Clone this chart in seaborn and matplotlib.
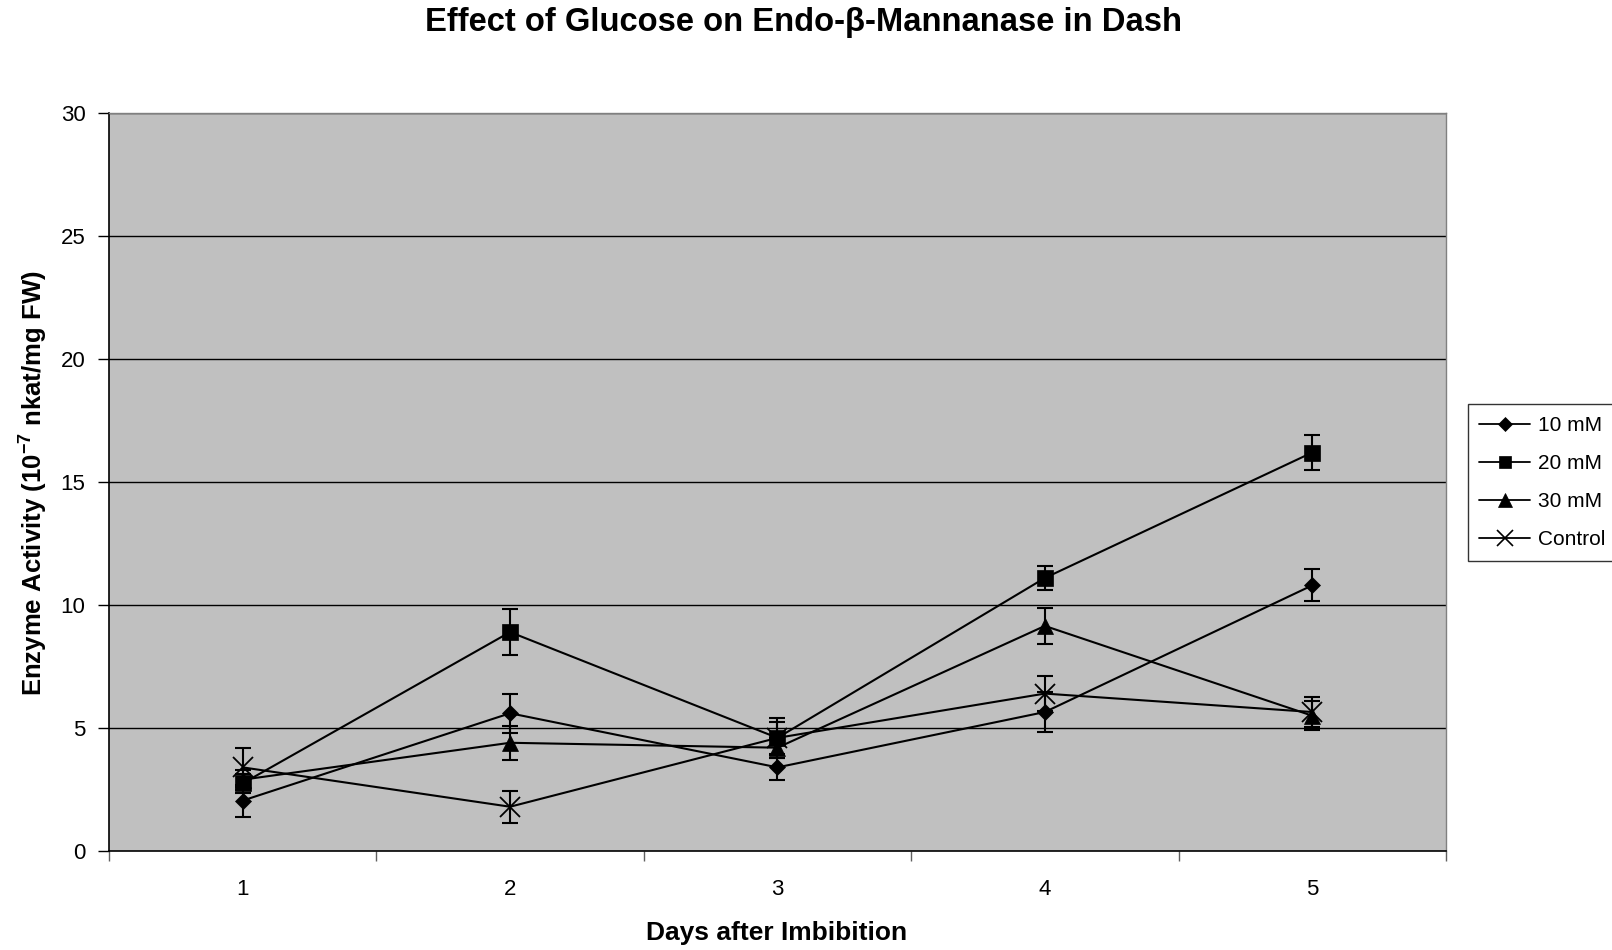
import matplotlib
matplotlib.use("Agg")
import matplotlib.pyplot as plt
import seaborn as sns
import pandas as pd
import numpy as np
from matplotlib.ticker import FixedLocator
from matplotlib.lines import Line2D

# ---- data ----
days = [1, 2, 3, 4, 5]
series_names = ["10 mM", "20 mM", "30 mM", "Control"]
vals_10 = [2.05, 5.6, 3.4, 5.65, 10.8]
vals_20 = [2.75, 8.9, 4.6, 11.1, 16.2]
vals_30 = [2.9, 4.4, 4.2, 9.15, 5.5]
vals_ctrl = [3.4, 1.8, 4.6, 6.4, 5.65]
err_10 = [0.65, 0.8, 0.5, 0.8, 0.65]
err_20 = [0.4, 0.93, 0.8, 0.5, 0.72]
err_30 = [0.4, 0.7, 0.4, 0.72, 0.6]
err_ctrl = [0.8, 0.65, 0.65, 0.7, 0.6]
y_ticks = [0, 5, 10, 15, 20, 25, 30]

title = "Effect of Glucose on Endo-\u03b2-Mannanase in Dash"
xlabel = "Days after Imbibition"
ylabel = r"Enzyme Activity (10$^{\mathbf{-7}}$ nkat/mg FW)"

sns.set_theme(style="white")
plt.rcParams["font.family"] = ["Liberation Sans", "DejaVu Sans"]
plt.rcParams["mathtext.fontset"] = "custom"
plt.rcParams["mathtext.rm"] = "Liberation Sans"
plt.rcParams["mathtext.bf"] = "Liberation Sans:bold"
for k in ["text.color", "axes.labelcolor", "xtick.color", "ytick.color", "xtick.labelcolor", "ytick.labelcolor"]:
    plt.rcParams[k] = "black"

df = pd.DataFrame({
    "day": days * 4,
    "value": vals_10 + vals_20 + vals_30 + vals_ctrl,
    "series": sum([[s] * 5 for s in series_names], []),
})
errs = {"10 mM": err_10, "20 mM": err_20, "30 mM": err_30, "Control": err_ctrl}
vals = {"10 mM": vals_10, "20 mM": vals_20, "30 mM": vals_30, "Control": vals_ctrl}
markers = {"10 mM": "D", "20 mM": "s", "30 mM": "^", "Control": "x"}
msizes = {"10 mM": 8.5, "20 mM": 11, "30 mM": 12, "Control": 14}

fig = plt.figure(figsize=(16.12, 9.5), dpi=100)
ax = fig.add_axes([0.0676, 0.1042, 0.8294, 0.7768])
ax.set_facecolor("#C0C0C0")

for name in series_names:
    sub = df[df["series"] == name]
    sns.lineplot(data=sub, x="day", y="value", ax=ax, color="black",
                 linewidth=1.5, marker=markers[name], markersize=msizes[name],
                 markeredgecolor="black", markerfacecolor="black",
                 markeredgewidth=1.3 if name == "Control" else 0.5,
                 legend=False, zorder=3)
    ax.errorbar(days, vals[name], yerr=errs[name], fmt="none", ecolor="black",
                elinewidth=1.5, capsize=6, capthick=1.5, zorder=2)

ax.set_xlim(0.5, 5.5)
ax.set_ylim(0, 30)
ax.set_yticks(y_ticks)
ax.set_xticks(days)
ax.xaxis.set_minor_locator(FixedLocator([0.5, 1.5, 2.5, 3.5, 4.5, 5.5]))
ax.tick_params(axis="x", which="major", length=0, pad=20, labelsize=16, colors="black")
ax.tick_params(axis="x", which="minor", length=7, width=1, color="#606060", direction="out", bottom=True)
ax.tick_params(axis="y", which="major", length=8, width=1, color="black", direction="out", pad=9, labelsize=16, left=True)
ax.set_xlabel("")
ax.set_ylabel("")
ax.grid(False)
for yv in y_ticks[1:]:
    ax.axhline(yv, color="black", linewidth=1, zorder=1)

for side in ["left", "bottom"]:
    ax.spines[side].set_color("black")
    ax.spines[side].set_linewidth(1.2)
for side in ["top", "right"]:
    ax.spines[side].set_color("#808080")
    ax.spines[side].set_linewidth(1)

fig.text(0.4985, 0.976, title, ha="center", va="center", fontsize=23.6, fontweight="bold", color="black")
fig.text(0.482, 0.018, xlabel, ha="center", va="center", fontsize=19, fontweight="bold", color="black")
fig.text(0.0205, 0.4916, ylabel, ha="center", va="center", rotation=90, fontsize=18.5, fontweight="bold", color="black")

handles = [Line2D([0], [0], color="black", linewidth=1.3, marker=markers[n],
                  markersize=msizes[n] * 0.8, markerfacecolor="black",
                  markeredgecolor="black", markeredgewidth=1.2 if n == "Control" else 0.5)
           for n in series_names]
leg = fig.legend(handles, series_names, loc="center left", bbox_to_anchor=(0.9105, 0.492),
                 fontsize=15, frameon=True, fancybox=False, edgecolor="black",
                 handlelength=2.45, handletextpad=0.35, labelspacing=0.92,
                 borderpad=0.55, borderaxespad=0)
leg.get_frame().set_linewidth(1)
for t in leg.get_texts():
    t.set_color("black")

fig.savefig("out.png", dpi=100, facecolor="white")
